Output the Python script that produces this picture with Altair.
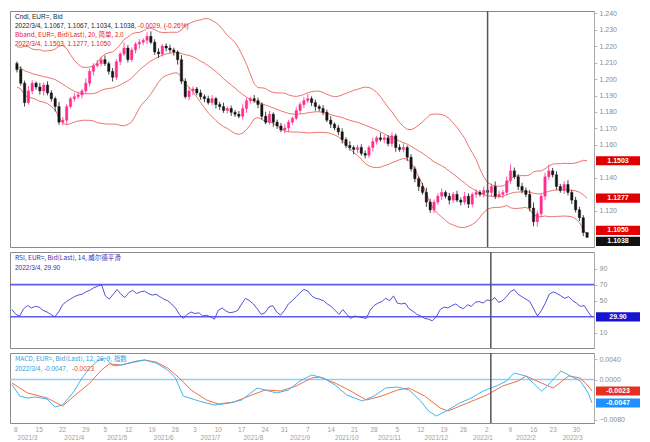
import altair as alt
import pandas as pd

# ---------------- data ----------------
warmup_close = [1.2130, 1.2170, 1.2105, 1.2150, 1.2080, 1.2040, 1.2095, 1.1990, 1.2030, 1.1960,
                1.2010, 1.2065, 1.2120, 1.2180, 1.2140, 1.2090, 1.2050, 1.1985, 1.2040]
first_open = 1.2095

close = [
    1.2058, 1.1975, 1.1857, 1.1928, 1.1975, 1.1952, 1.1928, 1.1964, 1.1916, 1.1881,
    1.1833, 1.1738, 1.1750, 1.1833, 1.1881, 1.1893, 1.1904, 1.1928, 1.1975, 1.2047,
    1.2082, 1.2094, 1.2118, 1.2094, 1.2047, 1.2011, 1.2106, 1.2153, 1.2189, 1.2118,
    1.2177, 1.2213, 1.2224, 1.2236, 1.2260, 1.2224, 1.2165, 1.2153, 1.2201, 1.2189,
    1.2177, 1.2165, 1.2118, 1.1987, 1.1893, 1.1928, 1.1940, 1.1916, 1.1893, 1.1881,
    1.1857, 1.1881, 1.1845, 1.1833, 1.1809, 1.1821, 1.1798, 1.1786, 1.1774, 1.1821,
    1.1869, 1.1881, 1.1869, 1.1845, 1.1774, 1.1738, 1.1786, 1.1738, 1.1715, 1.1691,
    1.1703, 1.1738, 1.1762, 1.1809, 1.1845, 1.1869, 1.1881, 1.1857, 1.1833, 1.1821,
    1.1798, 1.1750, 1.1726, 1.1703, 1.1679, 1.1632, 1.1596, 1.1584, 1.1572, 1.1584,
    1.1548, 1.1537, 1.1584, 1.1620, 1.1643, 1.1632, 1.1643, 1.1608, 1.1655, 1.1584,
    1.1572, 1.1584, 1.1525, 1.1454, 1.1394, 1.1347, 1.1311, 1.1252, 1.1205, 1.1252,
    1.1288, 1.1311, 1.1288, 1.1264, 1.1299, 1.1264, 1.1252, 1.1288, 1.1240, 1.1299,
    1.1311, 1.1299, 1.1323, 1.1311, 1.1347, 1.1288, 1.1299, 1.1311, 1.1382, 1.1442,
    1.1406, 1.1347, 1.1323, 1.1299, 1.1216, 1.1133, 1.1181, 1.1288, 1.1406, 1.1442,
    1.1418, 1.1347, 1.1323, 1.1359, 1.1311, 1.1264, 1.1205, 1.1157, 1.1067, 1.1038,
]

# wick lengths in pips above / below the candle body
wick_up = [12, 20, 15, 30, 18, 10, 25, 14, 22, 16, 12, 28, 20, 15, 10, 24, 18, 12, 30, 16,
           14, 22, 18, 26, 12, 20, 15, 10, 34, 18, 16, 12, 20, 14, 26, 30, 18, 22, 12, 16,
           20, 14, 10, 28, 18, 24, 16, 12, 20, 14, 18, 22, 10, 16, 24, 12, 18, 14, 20, 26,
           16, 12, 22, 18, 14, 28, 20, 12, 16, 18, 24, 14, 10, 20, 16, 22, 28, 14, 18, 12,
           20, 16, 24, 10, 18, 22, 14, 26, 12, 16, 20, 18, 14, 24, 12, 30, 18, 16, 22, 14,
           20, 26, 12, 18, 16, 14, 22, 28, 20, 16, 18, 24, 12, 20, 14, 22, 16, 26, 18, 12,
           20, 14, 24, 16, 18, 30, 22, 14, 26, 40, 20, 16, 22, 18, 26, 34, 20, 14, 24, 38,
           18, 22, 16, 20, 26, 14, 20, 18, 16, 0]
wick_dn = [18, 14, 24, 12, 20, 16, 22, 28, 14, 18, 30, 16, 20, 26, 12, 18, 14, 22, 16, 20,
           24, 12, 18, 14, 20, 26, 16, 22, 12, 18, 14, 20, 28, 16, 22, 12, 18, 24, 14, 20,
           16, 22, 30, 18, 12, 20, 26, 14, 18, 22, 12, 16, 24, 20, 14, 18, 22, 16, 12, 20,
           26, 18, 14, 22, 20, 12, 16, 28, 18, 14, 20, 24, 16, 12, 18, 22, 14, 20, 26, 16,
           18, 12, 22, 14, 20, 24, 16, 18, 30, 22, 14, 20, 16, 24, 18, 12, 22, 16, 20, 26,
           14, 18, 24, 16, 22, 28, 14, 30, 18, 20, 16, 22, 14, 26, 18, 12, 20, 16, 24, 18,
           22, 14, 20, 16, 26, 18, 12, 24, 16, 20, 14, 22, 18, 16, 20, 28, 30, 20, 24, 18,
           16, 20, 14, 22, 18, 24, 16, 20, 22, 4]

rsi = [39, 33, 31, 40, 44, 41, 43, 42, 38, 36,
       33, 30, 36, 45, 49, 52, 55, 57, 58, 61,
       63, 66, 68, 70, 56, 52, 58, 64, 58, 54,
       60, 63, 59, 61, 62, 59, 57, 58, 55, 52,
       50, 46, 41, 33, 28, 33, 36, 34, 35, 31,
       32, 30, 27, 38, 41, 37, 35, 36, 38, 46,
       53, 50, 46, 40, 33, 35, 42, 44, 36, 32,
       38, 46, 50, 55, 60, 64, 62, 56, 53, 52,
       50, 46, 43, 38, 33, 39, 33, 28, 31, 30,
       29, 28, 38, 44, 47, 49, 53, 50, 56, 47,
       46, 47, 40, 37, 33, 31, 28, 27, 25, 30,
       39, 42, 41, 44, 46, 42, 40, 45, 43, 48,
       49, 47, 51, 50, 54, 48, 50, 55, 61, 64,
       58, 55, 52, 49, 40, 31, 38, 47, 58, 61,
       59, 56, 53, 55, 50, 47, 43, 44, 36, 29.9]
rsi_levels = [30, 70]

macd_idx = [0, 2, 4, 6, 9, 11, 13, 16, 18, 20, 22, 24, 26, 28, 32, 34, 37, 40, 42, 44,
            48, 52, 56, 59, 63, 65, 68, 71, 74, 77, 80, 83, 86, 90, 93, 96, 99, 102, 105, 107,
            109, 112, 115, 118, 121, 125, 127, 129, 132, 136, 137, 141, 143, 146, 148, 149]
macd_val = [-0.0010, -0.0033, -0.0037, -0.0035, -0.0039, -0.0055, -0.0051, -0.0023, 0.0003, 0.0023,
            0.0037, 0.0043, 0.0027, 0.0029, 0.0037, 0.0039, 0.0033, 0.0019, 0.0003, -0.0033,
            -0.0043, -0.0051, -0.0047, -0.0041, -0.0017, -0.0021, -0.0027, -0.0021, -0.0003, 0.0009,
            0.0003, -0.0011, -0.0031, -0.0043, -0.0033, -0.0017, -0.0015, -0.0021, -0.0043, -0.0063,
            -0.0073, -0.0061, -0.0047, -0.0037, -0.0023, -0.0011, -0.0003, 0.0013, 0.0007, -0.0023,
            -0.0017, 0.0017, 0.0009, -0.0003, -0.0027, -0.0047]
sig_idx = [0, 4, 9, 13, 16, 20, 23, 25, 28, 34, 37, 40, 43, 46, 50, 53, 57, 61, 65, 69,
           73, 77, 79, 83, 87, 91, 95, 99, 102, 106, 110, 112, 117, 122, 126, 130, 132, 136, 139, 143,
           146, 148, 149]
sig_val = [-0.0007, -0.0027, -0.0037, -0.0053, -0.0033, -0.0007, 0.0019, 0.0031, 0.0029, 0.0039,
           0.0035, 0.0023, 0.0003, -0.0021, -0.0041, -0.0049, -0.0045, -0.0033, -0.0021, -0.0023,
           -0.0013, 0.0003, 0.0005, -0.0007, -0.0023, -0.0041, -0.0033, -0.0021, -0.0017, -0.0033,
           -0.0057, -0.0063, -0.0047, -0.0031, -0.0013, -0.0003, 0.0007, -0.0007, -0.0017, 0.0007,
           0.0003, -0.0013, -0.0023]
macd_zero = [0.0]

cursor_idx = [123]

price_ticks = [1.10, 1.11, 1.12, 1.13, 1.14, 1.15, 1.16, 1.17, 1.18, 1.19, 1.20, 1.21, 1.22, 1.23, 1.24]
rsi_ticks = [10, 30, 50, 70, 90]
macd_ticks = [0.004, 0.0, -0.004, -0.008]

day_idx = [1, 7, 13, 19, 24, 30, 36, 42, 47, 53, 59, 65, 70, 76, 82, 88, 93, 99, 105, 111,
           116, 122, 128, 134, 139, 145]
day_lbl = ["8", "15", "22", "29", "5", "12", "19", "26", "3", "10", "17", "24", "31", "7", "14",
           "21", "28", "5", "12", "19", "26", "2", "9", "16", "23", "30"]
month_idx = [4, 16, 27, 39, 51, 62, 74, 86, 97, 109, 121, 132, 144]
month_lbl = ["2021/3", "2021/4", "2021/5", "2021/6", "2021/7", "2021/8", "2021/9", "2021/10",
             "2021/11", "2021/12", "2022/1", "2022/2", "2022/3"]

# ---------------- derived table ----------------
N = len(close)
assert len(wick_up) == N and len(wick_dn) == N and len(rsi) == N
opens = [first_open] + close[:-1]
full = pd.Series(warmup_close + close)
mid = full.rolling(20).mean().iloc[-N:].tolist()
sd = full.rolling(20).std(ddof=0).iloc[-N:].tolist()
upper = [m + 2 * s for m, s in zip(mid, sd)]
lower = [m - 2 * s for m, s in zip(mid, sd)]
high = [max(o, c) + u / 10000 for o, c, u in zip(opens, close, wick_up)]
low = [min(o, c) - d / 10000 for o, c, d in zip(opens, close, wick_dn)]

df = pd.DataFrame({"idx": list(range(N)), "open": opens, "close": close, "high": high,
                   "low": low, "upper": upper, "mid": mid, "lower": lower, "rsi": rsi})

W, H1, H2, H3 = 584, 236, 96, 70
FONT = "Noto Sans CJK SC"
LFONT = "Liberation Sans"

main_dom = [1.0979, 1.2414]
rsi_dom = [-8.8, 110.6]
macd_dom = [-0.0087, 0.0053]


def free_ticks(ticks, boxes, dom, h, gap=9.0):
    """keep only tick labels that are not hidden under a value box"""
    ppu = h / (dom[1] - dom[0])
    return [t for t in ticks if all(abs(t - b) * ppu > gap for b in boxes)]


main_box_vals = [upper[-1], mid[-1], lower[-1], close[-1]]
rsi_box_vals = [rsi[-1]]
macd_box_vals = [sig_val[-1], macd_val[-1]]

xs = alt.X("idx:Q", scale=alt.Scale(domain=[-0.5, N - 0.5], nice=False, zero=False), axis=None)

y_main_scale = alt.Scale(domain=main_dom, nice=False, zero=False)
y_main_axis = alt.Axis(orient="right", values=free_ticks(price_ticks, main_box_vals, main_dom, H1),
                       format=".3f", title=None)
y_rsi_scale = alt.Scale(domain=rsi_dom, nice=False, zero=False)
y_rsi_axis = alt.Axis(orient="right", values=free_ticks(rsi_ticks, rsi_box_vals, rsi_dom, H2), title=None)
y_macd_scale = alt.Scale(domain=macd_dom, nice=False, zero=False)
y_macd_axis = alt.Axis(orient="right", values=free_ticks(macd_ticks, macd_box_vals, macd_dom, H3),
                       format=".4f", title=None)


def ym(field):
    return alt.Y(field, type="quantitative", scale=y_main_scale, axis=y_main_axis, title=None)


def yr(field):
    return alt.Y(field, type="quantitative", scale=y_rsi_scale, axis=y_rsi_axis, title=None)


def yd(field):
    return alt.Y(field, type="quantitative", scale=y_macd_scale, axis=y_macd_axis, title=None)


def label(text, x, y, color, size=6.5, font=LFONT):
    return alt.Chart(pd.DataFrame({"t": [text]})).mark_text(
        align="left", baseline="middle", fontSize=size, font=font, color=color
    ).encode(x=alt.value(x), y=alt.value(y), text="t:N")


BOX_SHAPE = "M-2,-0.42L2,-0.42L2,0.42L-2,0.42Z"


def value_box(val, color, text, yfun, off=0):
    bd = pd.DataFrame({"v": [val], "t": [text]})
    b = alt.Chart(bd).mark_point(shape=BOX_SHAPE, size=484, filled=True, opacity=1, strokeWidth=0,
                                 color=color, yOffset=off).encode(x=alt.value(W + 24), y=yfun("v"))
    t = alt.Chart(bd).mark_text(fontSize=7, font=LFONT, color="white", fontWeight="bold",
                                baseline="middle", yOffset=off).encode(x=alt.value(W + 24), y=yfun("v"), text="t:N")
    return [b, t]


candle_color = alt.condition("datum.close >= datum.open", alt.value("#ff2d8c"), alt.value("#151515"))
cursor_df = pd.DataFrame({"idx": cursor_idx})

# ---------------- main price panel ----------------
base = alt.Chart(df)
bands = base.transform_fold(["upper", "mid", "lower"], as_=["band", "val"]).mark_line(
    color="#e5534b", strokeWidth=0.8).encode(x=xs, y=ym("val"), detail="band:N")
wicks = base.mark_rule(strokeWidth=0.8).encode(x=xs, y=ym("low"), y2="high:Q", color=candle_color)
bodies = base.mark_bar(size=2.4, strokeWidth=0.4).encode(
    x=xs, y=ym("open"), y2="close:Q", color=candle_color, stroke=candle_color)
cursor_main = alt.Chart(cursor_df).mark_rule(color="#555555", strokeWidth=1.5).encode(x=xs)

chg = close[-1] - close[-2]
main_layers = [bands, wicks, bodies, cursor_main,
               label("Cndl, EUR=, Bid", 5, 6, "#222222"),
               label("2022/3/4, %.4f, %.4f, %.4f, %.4f," % (opens[-1], high[-1], low[-1], close[-1]), 5, 15, "#222222"),
               label("%.4f, (%.2f%%)" % (chg, chg / close[-2] * 100), 128, 15, "#e02020"),
               label("Bband, EUR=, Bid(Last), 20, 简单, 2.0", 5, 24, "#e02020", font=FONT),
               label("2022/3/4, %.4f, %.4f, %.4f" % (upper[-1], mid[-1], lower[-1]), 5, 33, "#e02020")]
main_layers += value_box(upper[-1], "#e00000", "%.4f" % upper[-1], ym)
main_layers += value_box(mid[-1], "#e00000", "%.4f" % mid[-1], ym)
main_layers += value_box(lower[-1], "#e00000", "%.4f" % lower[-1], ym, off=-5)
main_layers += value_box(close[-1], "#111111", "%.4f" % close[-1], ym, off=4)
main = alt.layer(*main_layers).properties(width=W, height=H1)

# ---------------- RSI panel ----------------
rsi_line = base.mark_line(color="#3f3fd0", strokeWidth=0.9).encode(x=xs, y=yr("rsi"))
rsi_lv = alt.Chart(pd.DataFrame({"lvl": rsi_levels})).mark_rule(color="#5c5cf5", strokeWidth=1.6).encode(y=yr("lvl"))
rsi_layers = [rsi_lv, rsi_line, cursor_main,
              label("RSI, EUR=, Bid(Last), 14, 威尔德平滑", 5, 6, "#3030c0", font=FONT),
              label("2022/3/4, %.2f" % rsi[-1], 5, 16, "#3030c0")]
rsi_layers += value_box(rsi[-1], "#1515d0", "%.2f" % rsi[-1], yr)
rsi_panel = alt.layer(*rsi_layers).properties(width=W, height=H2)

# ---------------- MACD panel ----------------
macd_df = pd.DataFrame({"idx": macd_idx, "v": macd_val})
sig_df = pd.DataFrame({"idx": sig_idx, "v": sig_val})
zero = alt.Chart(pd.DataFrame({"z": macd_zero})).mark_rule(color="#8fd0f5", strokeWidth=1.3).encode(y=yd("z"))
macd_line = alt.Chart(macd_df).mark_line(color="#45b4f0", strokeWidth=1.0).encode(x=xs, y=yd("v"))
sig_line = alt.Chart(sig_df).mark_line(color="#f07048", strokeWidth=1.0).encode(x=xs, y=yd("v"))
days = alt.Chart(pd.DataFrame({"idx": day_idx, "t": day_lbl})).mark_text(
    fontSize=6.5, font=LFONT, color="#a0a0a0", baseline="middle").encode(x=xs, y=alt.value(H3 + 7), text="t:N")
months = alt.Chart(pd.DataFrame({"idx": month_idx, "t": month_lbl})).mark_text(
    fontSize=6.5, font=LFONT, color="#a0a0a0", baseline="middle").encode(x=xs, y=alt.value(H3 + 15), text="t:N")
macd_layers = [zero, sig_line, macd_line, cursor_main, days, months,
               label("MACD, EUR=, Bid(Last), 12, 26, 9, 指数", 5, 6, "#2a9fe0", font=FONT),
               label("2022/3/4, %.4f," % macd_val[-1], 5, 16, "#2a9fe0"),
               label("%.4f" % sig_val[-1], 62, 16, "#e05030")]
macd_layers += value_box(sig_val[-1], "#e83020", "%.4f" % sig_val[-1], yd)
macd_layers += value_box(macd_val[-1], "#1e90ff", "%.4f" % macd_val[-1], yd)
macd_panel = alt.layer(*macd_layers).properties(width=W, height=H3)

chart = alt.vconcat(main, rsi_panel, macd_panel, spacing=1).properties(
    padding=0, background="white"
).configure_view(stroke="#8a8a8a", strokeWidth=1).configure_axis(
    labelFontSize=7, labelColor="#8c8c8c", labelFont=LFONT, tickColor="#bbbbbb",
    domainColor="#aaaaaa", tickSize=3, labelPadding=2, grid=False
)

chart.save("out.html", embed_options={"renderer": "svg", "actions": False})
